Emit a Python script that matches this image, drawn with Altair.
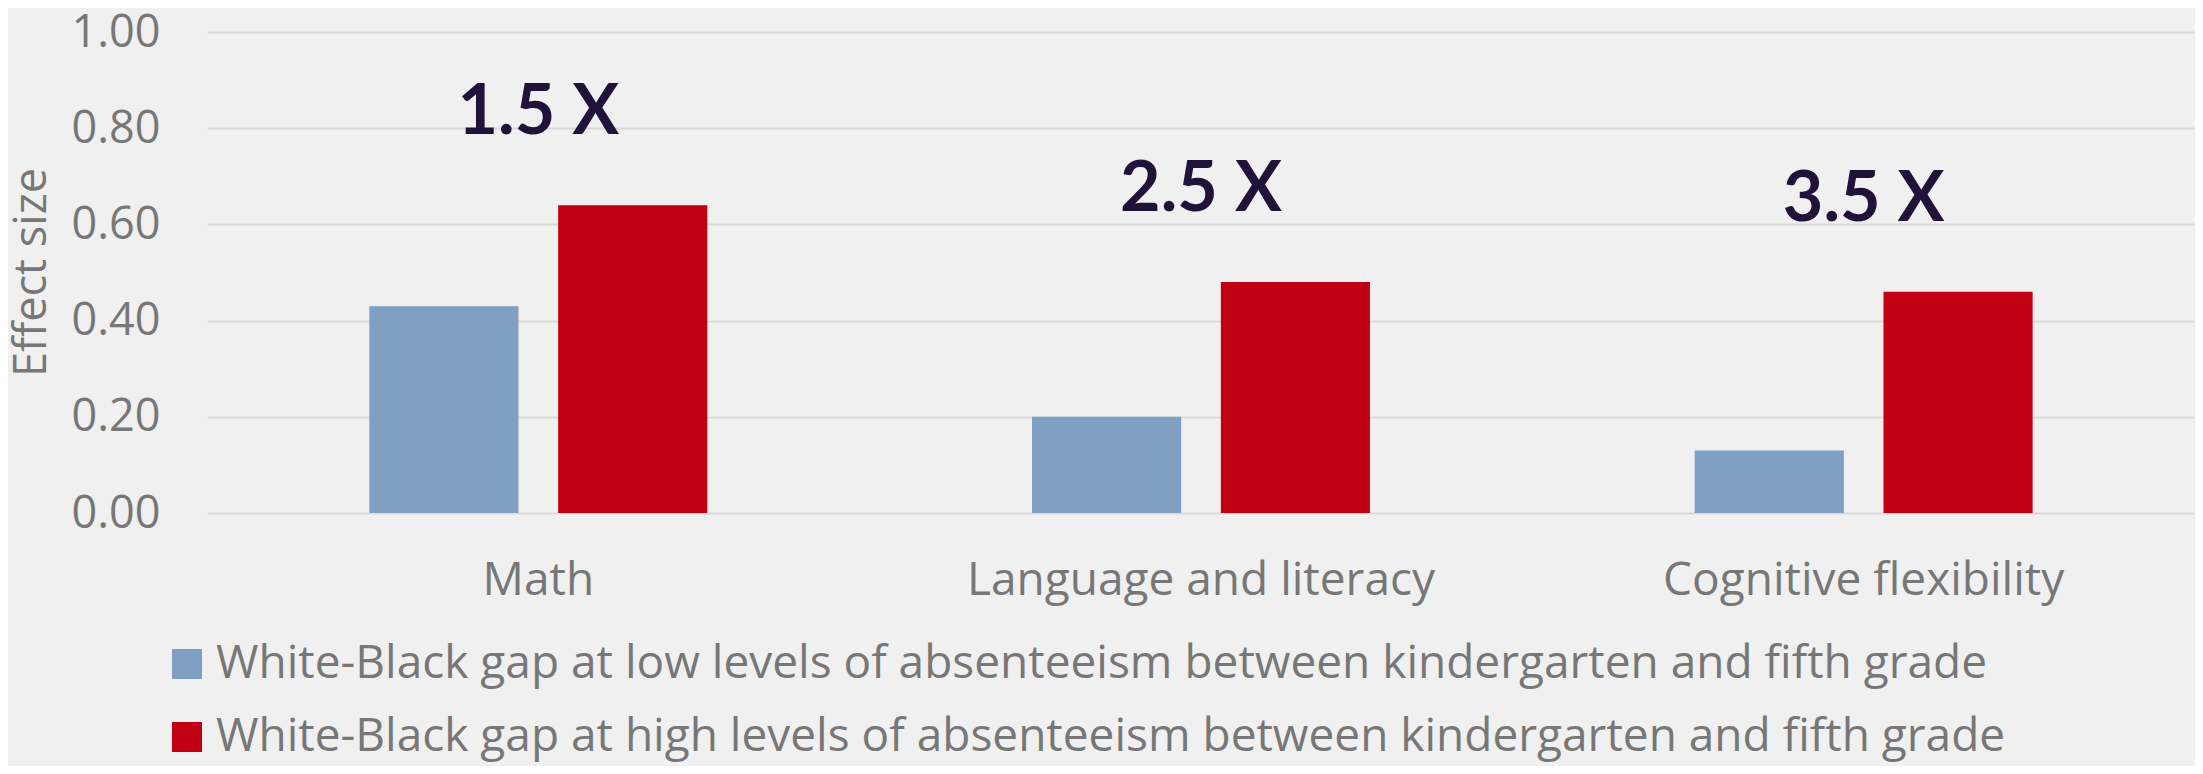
import altair as alt
import pandas as pd

categories = ["Math", "Language and literacy", "Cognitive flexibility"]
series_names = [
    "White-Black gap at low levels of absenteeism between kindergarten and fifth grade",
    "White-Black gap at high levels of absenteeism between kindergarten and fifth grade",
]
low_values = [0.43, 0.20, 0.13]
high_values = [0.64, 0.48, 0.46]
ratio_labels = ["1.5 X", "2.5 X", "3.5 X"]
y_ticks = [0.0, 0.2, 0.4, 0.6, 0.8, 1.0]

rows = []
for i, c in enumerate(categories):
    rows.append({"category": c, "series": series_names[0], "value": low_values[i], "label": ratio_labels[i]})
    rows.append({"category": c, "series": series_names[1], "value": high_values[i], "label": ratio_labels[i]})
df = pd.DataFrame(rows)

FONT = "Open Sans"
BOLD_FONT = "Lato"
GREY = "#777777"
FS = 45
FS_BIG = 46

x_enc = alt.X(
    "category:N",
    sort=categories,
    scale=alt.Scale(paddingInner=0.49, paddingOuter=0.245),
    axis=alt.Axis(
        title=None, labelAngle=0, labelFontSize=FS_BIG, labelColor=GREY, labelFont=FONT,
        labelBaseline="middle", labelPadding=67, ticks=False, domain=False, labelLimit=1000,
    ),
)
y_enc = alt.Y(
    "value:Q",
    scale=alt.Scale(domain=[0, 1], nice=False),
    axis=alt.Axis(
        values=y_ticks, format=".2f", title="Effect size", titleFontSize=FS, titleFont=FONT,
        titleColor=GREY, titleFontWeight="normal", titleX=-176, titleY=240, titleAngle=-90,
        titleAlign="center", titleBaseline="middle",
        labelFontSize=FS, labelFont=FONT, labelColor=GREY, labelPadding=47,
        ticks=False, domain=False, gridColor="#d9d9d9", gridWidth=2,
    ),
)

bars = alt.Chart(df).mark_bar().encode(
    x=x_enc,
    xOffset=alt.XOffset("series:N", sort=series_names, scale=alt.Scale(paddingInner=0.21, paddingOuter=0)),
    y=y_enc,
    color=alt.Color(
        "series:N",
        sort=series_names,
        scale=alt.Scale(domain=series_names, range=["#7f9fc3", "#c20013"]),
        legend=alt.Legend(
            title=None, orient="none", legendX=-43, legendY=609, direction="vertical",
            symbolType="square", symbolSize=900, symbolStrokeWidth=0, symbolOpacity=1,
            labelFontSize=FS_BIG, labelFont=FONT, labelColor=GREY, labelOffset=6,
            labelLimit=3000, rowPadding=27, padding=0,
        ),
    ),
)

text = alt.Chart(df).transform_filter(
    alt.datum.series == series_names[1]
).mark_text(
    font=BOLD_FONT, fontSize=70, fontWeight="bold", color="#21123a", dy=-92, baseline="middle", align="center"
).encode(
    x=alt.X("category:N", sort=categories),
    y=alt.Y("value:Q"),
    text="label:N",
)

chart = alt.layer(bars, text).properties(
    width=1988,
    height=481,
    background="#f0f0f0",
    padding={"left": 199, "top": 24, "right": 0, "bottom": 253},
    autosize=alt.AutoSizeParams(type="none"),
).configure_view(stroke=None)

chart.save("out.html", embed_options={"renderer": "svg", "actions": False})
